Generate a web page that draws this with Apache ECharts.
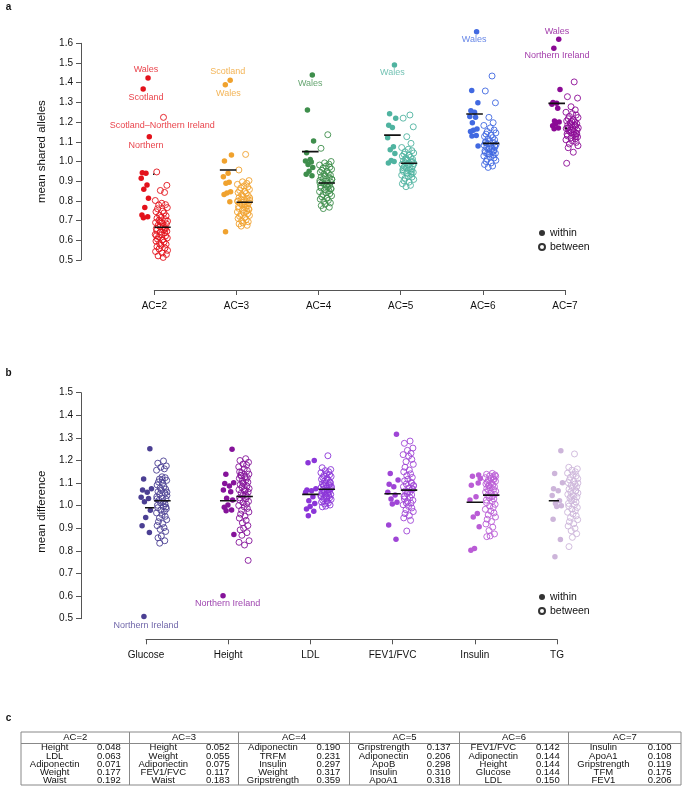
<!DOCTYPE html>
<html><head><meta charset="utf-8">
<script src="https://cdn.jsdelivr.net/npm/echarts@6/dist/echarts.min.js"></script>
<style>html,body{margin:0;padding:0;background:#fff}#c{width:686px;height:803px}</style>
</head><body><div id="c"></div>
<script>
// ---------------- DATA: panel a ----------------
const groupsA = ['AC=2','AC=3','AC=4','AC=5','AC=6','AC=7'];
const colorsA = ['#E3121B','#F0A22E','#3E8E4C','#4FB3A0','#4169E1','#8B0A95'];
const withinA = [
  [1.424,1.368,1.126,0.943,0.940,0.915,0.881,0.859,0.813,0.766,0.728,0.720,0.715],
  [1.412,1.390,1.033,1.003,0.940,0.923,0.895,0.889,0.847,0.840,0.832,0.796,0.644],
  [1.439,1.261,1.104,1.045,1.010,1.003,0.997,0.985,0.970,0.950,0.935,0.928],
  [1.490,1.243,1.219,1.184,1.172,1.120,1.075,1.060,1.040,1.005,0.993,1.000],
  [1.659,1.361,1.298,1.257,1.250,1.229,1.224,1.197,1.165,1.158,1.152,1.132,1.129,1.079],
  [1.620,1.575,1.366,1.300,1.296,1.290,1.270,1.205,1.200,1.190,1.182,1.170,1.166]
];
const betweenA = [
  [1.224,0.947,0.879,0.853,0.843,0.802,0.788,0.781,0.779,0.766,0.760,0.748,0.745,0.739,0.727,0.724,0.716,0.712,0.705,0.701,0.697,0.690,0.688,0.684,0.676,0.671,0.669,0.663,0.660,0.653,0.650,0.646,0.641,0.638,0.630,0.628,0.622,0.617,0.612,0.606,0.603,0.596,0.591,0.584,0.580,0.574,0.568,0.561,0.556,0.549,0.543,0.536,0.528,0.521,0.513,0.694,0.657,0.624],
  [1.036,0.957,0.903,0.897,0.889,0.884,0.876,0.870,0.866,0.858,0.853,0.849,0.842,0.838,0.831,0.826,0.822,0.817,0.812,0.808,0.803,0.799,0.795,0.791,0.787,0.783,0.778,0.774,0.771,0.766,0.762,0.757,0.753,0.748,0.744,0.739,0.735,0.731,0.726,0.722,0.716,0.711,0.705,0.699,0.694,0.688,0.683,0.676,0.672,0.815,0.798,0.784,0.760],
  [1.136,1.067,1.000,0.993,0.987,0.982,0.976,0.971,0.966,0.961,0.955,0.950,0.946,0.941,0.936,0.931,0.927,0.922,0.918,0.913,0.909,0.904,0.900,0.896,0.892,0.888,0.884,0.879,0.875,0.870,0.866,0.861,0.857,0.852,0.847,0.842,0.837,0.832,0.826,0.821,0.815,0.809,0.803,0.797,0.790,0.783,0.776,0.768,0.761,0.910,0.893,0.880,0.862],
  [1.236,1.220,1.176,1.126,1.092,1.071,1.062,1.055,1.049,1.043,1.037,1.032,1.027,1.022,1.017,1.012,1.007,1.003,0.998,0.994,0.990,0.986,0.982,0.978,0.974,0.970,0.966,0.962,0.958,0.954,0.950,0.945,0.941,0.936,0.931,0.926,0.921,0.915,0.909,0.902,0.895,0.887,0.879,0.872,1.000,0.985,0.968,0.946,1.010],
  [1.434,1.358,1.298,1.224,1.197,1.183,1.171,1.160,1.152,1.145,1.139,1.133,1.127,1.121,1.116,1.110,1.105,1.100,1.096,1.091,1.087,1.083,1.078,1.074,1.070,1.066,1.062,1.058,1.054,1.050,1.046,1.042,1.038,1.033,1.028,1.023,1.018,1.012,1.006,1.000,0.993,0.985,0.977,0.970,1.080,1.065,1.095,1.052,1.040],
  [1.404,1.329,1.322,1.278,1.262,1.250,1.243,1.236,1.229,1.223,1.217,1.211,1.206,1.201,1.196,1.191,1.187,1.183,1.179,1.175,1.171,1.167,1.163,1.159,1.155,1.151,1.147,1.143,1.139,1.135,1.130,1.125,1.120,1.115,1.110,1.104,1.097,1.089,1.080,1.070,1.047,0.991,1.185,1.160,1.140,1.205,1.170,1.128]
];
const withinMeanA = [0.935,0.957,1.050,1.134,1.241,1.295];
const betweenMeanA = [0.666,0.793,0.891,0.991,1.092,1.168];
// annotations: [group, x offset, y, text]
const notesA = [
  [0,-0.101,1.466,'Wales'],[0,-0.101,1.324,'Scotland'],[0,0.096,1.184,'Scotland\u2013Northern Ireland'],[0,-0.101,1.082,'Northern'],
  [1,-0.106,1.456,'Scotland'],[1,-0.099,1.346,'Wales'],
  [2,-0.101,1.397,'Wales'],[3,-0.102,1.451,'Wales'],[4,-0.106,1.620,'Wales'],
  [5,-0.097,1.659,'Wales'],[5,-0.097,1.536,'Northern Ireland']
];
const yTicksA = [0.5,0.6,0.7,0.8,0.9,1.0,1.1,1.2,1.3,1.4,1.5,1.6];

// ---------------- DATA: panel b ----------------
const groupsB = ['Glucose','Height','LDL','FEV1/FVC','Insulin','TG'];
const colorsB = ['#4B3F93','#85139A','#8B35D8','#9F45D6','#BA5CD6','#CDB5DA'];
const withinB = [
  [1.252,1.118,1.075,1.070,1.060,1.037,1.032,1.018,0.980,0.948,0.911,0.881,0.510],
  [1.250,1.139,1.102,1.098,1.087,1.069,1.062,1.033,1.025,1.003,0.993,0.981,0.978,0.873,0.602],
  [1.200,1.190,1.075,1.070,1.066,1.060,1.040,1.022,1.010,0.996,0.985,0.975,0.956],
  [1.316,1.143,1.114,1.095,1.084,1.060,1.047,1.030,1.015,1.007,0.915,0.851],
  [1.136,1.130,1.120,1.090,1.040,1.025,0.965,0.950,0.907,0.811,0.803,1.100],
  [1.243,1.143,1.102,1.075,1.066,1.045,1.022,1.010,1.000,0.996,0.940,0.850,0.774]
];
const betweenB = [
  [1.198,1.188,1.176,1.170,1.163,1.157,1.128,1.124,1.118,1.112,1.105,1.099,1.092,1.085,1.079,1.073,1.068,1.062,1.056,1.051,1.045,1.040,1.034,1.029,1.024,1.018,1.013,1.008,1.002,0.997,0.991,0.986,0.980,0.974,0.968,0.961,0.953,0.946,0.938,0.929,0.921,0.912,0.903,0.895,0.886,0.866,0.858,0.845,0.834,1.060,1.030,1.115,0.994],
  [1.208,1.200,1.192,1.184,1.180,1.172,1.163,1.155,1.146,1.140,1.133,1.128,1.121,1.115,1.110,1.104,1.098,1.093,1.087,1.082,1.076,1.071,1.066,1.060,1.055,1.050,1.045,1.040,1.035,1.030,1.024,1.019,1.013,1.007,1.001,0.995,0.988,0.980,0.972,0.963,0.954,0.945,0.935,0.924,0.912,0.900,0.893,0.881,0.869,0.845,0.838,0.826,0.758,1.135,1.070,1.100,1.125,1.150],
  [1.221,1.168,1.160,1.155,1.150,1.146,1.141,1.137,1.133,1.129,1.125,1.121,1.117,1.113,1.109,1.105,1.101,1.097,1.093,1.089,1.085,1.081,1.077,1.074,1.071,1.068,1.065,1.062,1.059,1.056,1.053,1.050,1.047,1.044,1.041,1.038,1.035,1.032,1.028,1.024,1.020,1.016,1.012,1.008,1.003,0.998,0.995,1.070,1.060,1.080,1.045,1.030,1.100,1.090],
  [1.286,1.276,1.255,1.245,1.232,1.226,1.219,1.205,1.195,1.183,1.170,1.158,1.150,1.141,1.133,1.125,1.117,1.110,1.103,1.096,1.090,1.084,1.078,1.072,1.066,1.060,1.054,1.048,1.042,1.036,1.030,1.024,1.018,1.011,1.004,0.997,0.990,0.982,0.974,0.965,0.956,0.946,0.935,0.888,1.075,1.062,1.040,1.100,1.012,1.088],
  [1.143,1.139,1.136,1.132,1.128,1.124,1.120,1.116,1.112,1.108,1.104,1.100,1.096,1.092,1.088,1.084,1.080,1.076,1.072,1.068,1.064,1.060,1.055,1.050,1.045,1.040,1.035,1.030,1.025,1.019,1.013,1.006,0.999,0.992,0.984,0.976,0.968,0.959,0.950,0.940,0.930,0.919,0.905,0.890,0.875,0.866,0.863,1.118,1.090,1.130],
  [1.229,1.170,1.163,1.157,1.150,1.144,1.138,1.132,1.126,1.120,1.114,1.108,1.102,1.096,1.090,1.084,1.079,1.073,1.067,1.062,1.056,1.050,1.045,1.039,1.033,1.028,1.022,1.016,1.010,1.004,0.998,0.992,0.985,0.978,0.971,0.963,0.955,0.947,0.938,0.929,0.920,0.910,0.900,0.889,0.876,0.860,0.819,1.065,1.040,1.100]
];
const withinMeanB = [0.991,1.022,1.050,1.053,1.015,1.022];
const betweenMeanB = [1.022,1.041,1.073,1.069,1.047,1.037];
const notesB = [[0,0.0,0.472,'Northern Ireland'],[1,-0.007,0.565,'Northern Ireland']];
const yTicksB = [0.5,0.6,0.7,0.8,0.9,1.0,1.1,1.2,1.3,1.4,1.5];

// ---------------- DATA: panel c ----------------
const tableHeaders = ['AC=2','AC=3','AC=4','AC=5','AC=6','AC=7'];
const tableNames = [
  ['Height','LDL','Adiponectin','Weight','Waist'],
  ['Height','Weight','Adiponectin','FEV1/FVC','Waist'],
  ['Adiponectin','TRFM','Insulin','Weight','Gripstrength'],
  ['Gripstrength','Adiponectin','ApoB','Insulin','ApoA1'],
  ['FEV1/FVC','Adiponectin','Height','Glucose','LDL'],
  ['Insulin','ApoA1','Gripstrength','TFM','FEV1']
];
const tableValues = [
  [0.048,0.063,0.071,0.177,0.192],
  [0.052,0.055,0.075,0.117,0.183],
  [0.190,0.231,0.297,0.317,0.359],
  [0.137,0.206,0.298,0.310,0.318],
  [0.142,0.144,0.144,0.144,0.150],
  [0.100,0.108,0.119,0.175,0.206]
];
const legendNames = ['within','between'];
// hand-set horizontal jitter pattern (fraction of the jitter half-width)
const jitter = [0.35,-0.72,0.88,-0.15,0.52,-0.95,0.08,0.67,-0.41,0.95,-0.60,0.21,-0.84,0.44,-0.27,0.76,-0.05,-0.68,0.59,-0.36,0.99,-0.90,0.13,0.81,-0.50,0.30,-0.19,0.64,-0.78];

// ---------------- BUILD ----------------
const FONT = 'Liberation Sans, Arial, Helvetica, sans-serif';
const panels = [
  {groups:groupsA, colors:colorsA, within:withinA, between:betweenA, wm:withinMeanA, bm:betweenMeanA, notes:notesA,
   wC:-0.113, wS:0.055, bC:0.085, bS:0.077, wL:[-0.202,0], bL:[0,0.2]},
  {groups:groupsB, colors:colorsB, within:withinB, between:betweenB, wm:withinMeanB, bm:betweenMeanB, notes:notesB,
   wC:0.0, wS:0.07, bC:0.19, bS:0.065, wL:[-0.1,0.1], bL:[0.1,0.3]}
];
const series = [];
panels.forEach((p, pi) => {
  p.groups.forEach((g, gi) => {
    series.push({type:'scatter', xAxisIndex:pi, yAxisIndex:pi, clip:false, silent:true, symbol:'circle', symbolSize:5.5,
      itemStyle:{color:p.colors[gi], opacity:1},
      data:p.within[gi].map((v,i)=>[gi + p.wC + jitter[(i+7)%jitter.length]*p.wS, v])});
    series.push({type:'scatter', xAxisIndex:pi, yAxisIndex:pi, clip:false, silent:true, symbol:'circle', symbolSize:6,
      itemStyle:{color:'rgba(255,255,255,0)', borderColor:p.colors[gi], borderWidth:0.9, opacity:1},
      data:p.between[gi].map((v,i)=>[gi + p.bC + jitter[i%jitter.length]*p.bS, v])});
    series.push({type:'line', xAxisIndex:pi, yAxisIndex:pi, symbol:'none', silent:true, z:5,
      lineStyle:{color:'#111', width:1.6}, data:[[gi+p.wL[0], p.wm[gi]],[gi+p.wL[1], p.wm[gi]]]});
    series.push({type:'line', xAxisIndex:pi, yAxisIndex:pi, symbol:'none', silent:true, z:5,
      lineStyle:{color:'#111', width:1.6}, data:[[gi+p.bL[0], p.bm[gi]],[gi+p.bL[1], p.bm[gi]]]});
  });
  series.push({type:'scatter', xAxisIndex:pi, yAxisIndex:pi, clip:false, silent:true, symbolSize:0, z:6,
    data:p.notes.map(n=>({value:[n[0]+n[1], n[2]], name:n[3],
      label:{show:true, position:'inside', formatter:'{b}', fontSize:9, fontFamily:FONT, color:p.colors[n[0]]}}))});
});
series.push({name:'within', type:'scatter', data:[], itemStyle:{color:'#000'}});
series.push({name:'between', type:'scatter', data:[], itemStyle:{color:'rgba(255,255,255,0)', borderColor:'#000', borderWidth:1}});

function xAxisFor(pi, groups, offset){
  return {type:'value', gridIndex:pi, min:0, max:5, interval:1, offset:offset,
    axisLine:{show:true, onZero:false, lineStyle:{color:'#555', width:1}},
    axisTick:{show:true, length:5, lineStyle:{color:'#555'}},
    axisLabel:{formatter:v=>groups[Math.round(v)], fontSize:10, color:'#111', margin:11, fontFamily:FONT},
    splitLine:{show:false}};
}
function yAxisFor(pi, min, max, offset, name, pad){
  return {type:'value', gridIndex:pi, min:min, max:max, interval:0.1, offset:offset,
    name:name, nameLocation:'middle', nameGap:30,
    nameTextStyle:{fontSize:11.5, color:'#111', fontFamily:FONT, padding:pad},
    axisLine:{show:true, onZero:false, lineStyle:{color:'#555', width:1}},
    axisTick:{show:true, length:5, lineStyle:{color:'#555'}},
    axisLabel:{formatter:v=>v.toFixed(1), fontSize:10, color:'#111', margin:8, fontFamily:FONT},
    splitLine:{show:false}};
}

// table graphic
const graphic = [];
const colX = [21,129.5,238.5,349.5,459.5,568.5,681];
const tTop = 732, tHead = 743.5, tBot = 785;
const rowH = (tBot - tHead) / 5;
graphic.push({type:'rect', shape:{x:colX[0], y:tTop, width:colX[6]-colX[0], height:tBot-tTop}, style:{fill:'none', stroke:'#888', lineWidth:1}});
graphic.push({type:'line', shape:{x1:colX[0], y1:tHead, x2:colX[6], y2:tHead}, style:{stroke:'#888', lineWidth:1}});
for (let c=1;c<6;c++) graphic.push({type:'line', shape:{x1:colX[c], y1:tTop, x2:colX[c], y2:tBot}, style:{stroke:'#888', lineWidth:1}});
function txt(t, x, y, size, weight, color){
  return {type:'text', style:{text:t, x:x, y:y, fontSize:size, fontFamily:FONT, fontWeight:weight||'normal', fill:color||'#111',
    textAlign:'center', textVerticalAlign:'middle', align:'center', verticalAlign:'middle'}};
}
tableHeaders.forEach((h,c)=>{
  const l = colX[c], w = colX[c+1]-colX[c];
  graphic.push(txt(h, l + w/2, (tTop+tHead)/2, 9.5));
  tableNames[c].forEach((n,r)=>{
    const y = tHead + rowH*(r+0.5);
    graphic.push(txt(n, l + w*0.31, y, 9.5));
    graphic.push(txt(tableValues[c][r].toFixed(3), l + w*0.81, y, 9.5));
  });
});
graphic.push(txt('a', 8.5, 7.5, 10, 'bold'));
graphic.push(txt('b', 8.5, 373, 10, 'bold'));
graphic.push(txt('c', 8.5, 718, 10, 'bold'));

const legendBase = {orient:'vertical', left:538, itemWidth:6, itemHeight:6, itemGap:2, padding:0, selectedMode:false,
  icon:'circle', textStyle:{fontSize:10.5, color:'#111', fontFamily:FONT, lineHeight:12}, data:legendNames};

const option = {
  animation:false,
  backgroundColor:'#fff',
  textStyle:{fontFamily:FONT},
  grid:[
    {left:154.3, width:410.7, top:43.3, height:216.7},
    {left:146, width:411, top:392.7, height:226}
  ],
  xAxis:[xAxisFor(0, groupsA, 30), xAxisFor(1, groupsB, 20.6)],
  yAxis:[yAxisFor(0, yTicksA[0], yTicksA[yTicksA.length-1], 73.3, 'mean shared alleles', [0,0,0,0]),
         yAxisFor(1, yTicksB[0], yTicksB[yTicksB.length-1], 65, 'mean difference', [0,12,0,0])],
  legend:[Object.assign({}, legendBase, {top:227}), Object.assign({}, legendBase, {top:591})],
  series:series,
  graphic:graphic
};
const chart = echarts.init(document.getElementById('c'));
chart.setOption(option);
</script></body></html>
